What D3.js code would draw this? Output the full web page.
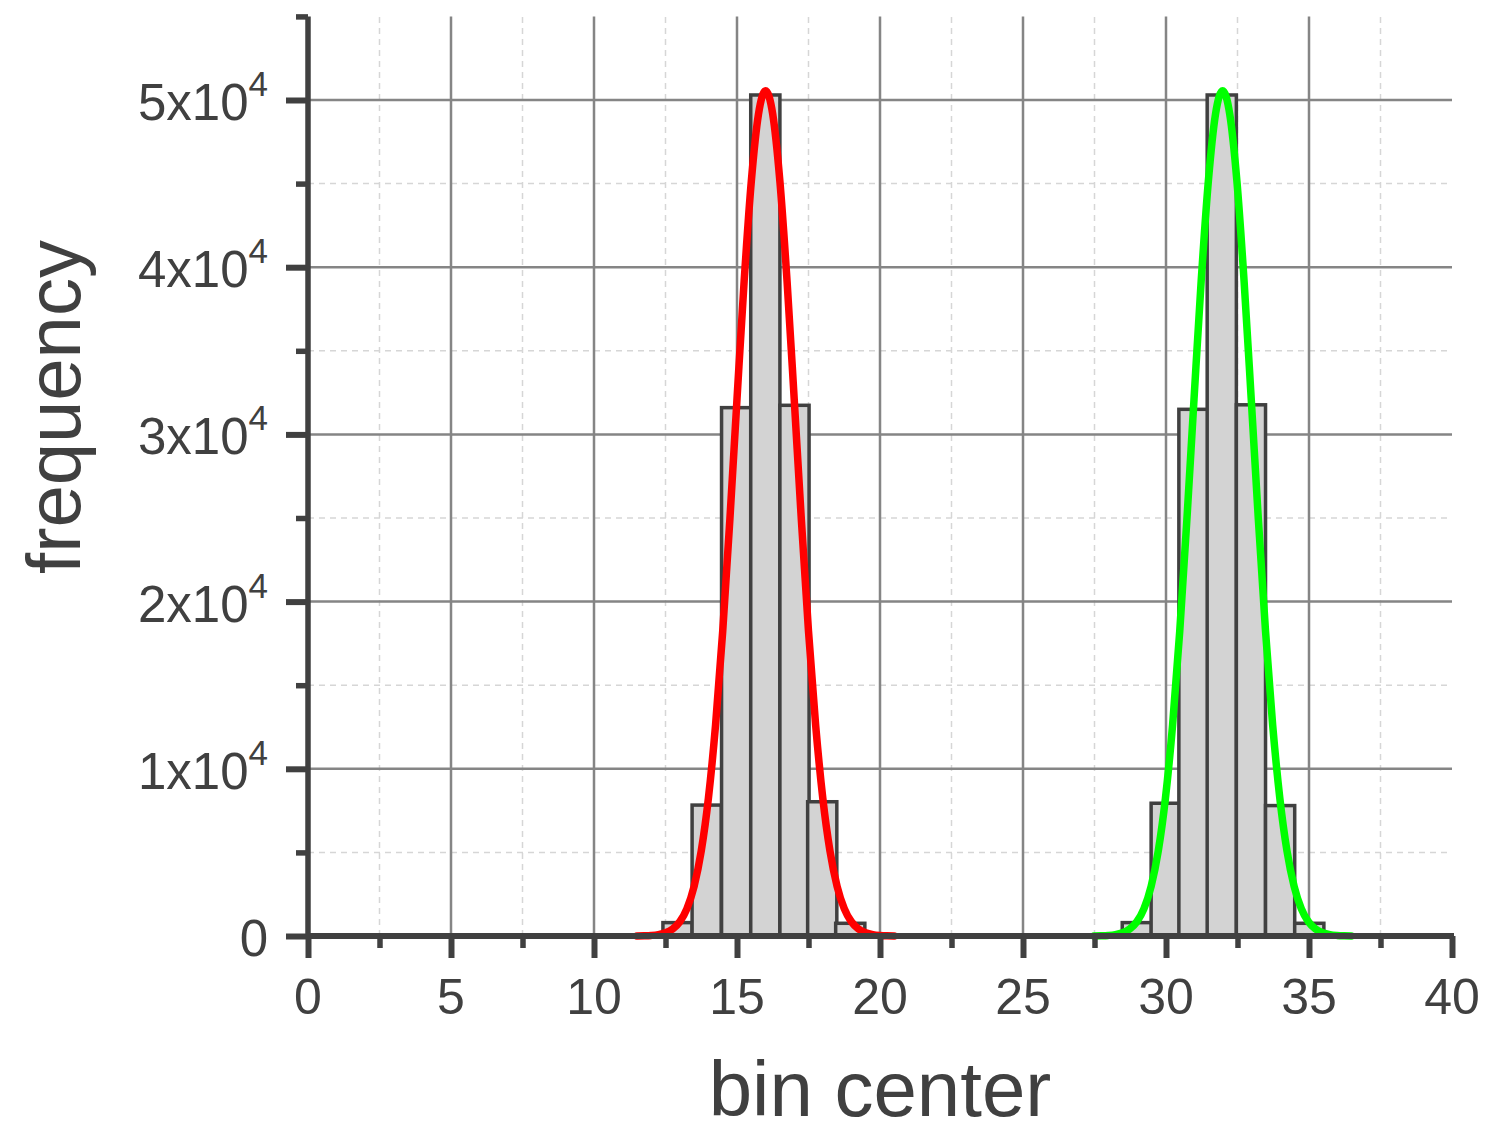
<!DOCTYPE html>
<html>
<head>
<meta charset="utf-8">
<script src="https://cdn.jsdelivr.net/npm/d3@7"></script>
<style>
  html, body { margin: 0; padding: 0; background: #ffffff; }
  svg { display: block; font-family: "Liberation Sans", Arial, sans-serif; }
</style>
</head>
<body>
<svg id="chart" width="1488" height="1136"></svg>
<script>
// Histogram bins: centers and counts for the two peaks
const binWidth = 1.02;
const peakABins = [12.92, 13.94, 14.97, 15.99, 17.01, 17.98, 18.96];
const peakACounts = [800, 7830, 31600, 50300, 31740, 8030, 760];
const peakBBins = [28.98, 29.99, 30.96, 31.95, 32.97, 33.99, 35.01];
const peakBCounts = [800, 7940, 31500, 50300, 31770, 7800, 760];

// Fitted curves, sampled points [bin center, frequency]
const fitA = [
  [11.5, 5], [11.75, 14], [12.0, 36], [12.25, 86], [12.5, 195], [12.75, 420],
  [13.0, 853], [13.25, 1640], [13.5, 2970], [13.75, 5090], [14.0, 8240],
  [14.25, 12610], [14.5, 18220], [14.75, 24890], [15.0, 32120], [15.25, 39170],
  [15.5, 45130], [15.75, 49140], [16.0, 50550], [16.25, 49140], [16.5, 45130],
  [16.75, 39170], [17.0, 32120], [17.25, 24890], [17.5, 18220], [17.75, 12610],
  [18.0, 8240], [18.25, 5090], [18.5, 2970], [18.75, 1640], [19.0, 853],
  [19.25, 420], [19.5, 195], [19.75, 86], [20.0, 36], [20.25, 14], [20.5, 5]
];
const fitB = [
  [27.48, 5], [27.73, 14], [27.98, 36], [28.23, 86], [28.48, 195], [28.73, 420],
  [28.98, 853], [29.23, 1640], [29.48, 2970], [29.73, 5090], [29.98, 8240],
  [30.23, 12610], [30.48, 18220], [30.73, 24890], [30.98, 32120], [31.23, 39170],
  [31.48, 45130], [31.73, 49140], [31.98, 50550], [32.23, 49140], [32.48, 45130],
  [32.73, 39170], [32.98, 32120], [33.23, 24890], [33.48, 18220], [33.73, 12610],
  [33.98, 8240], [34.23, 5090], [34.48, 2970], [34.73, 1640], [34.98, 853],
  [35.23, 420], [35.48, 195], [35.73, 86], [35.98, 36], [36.23, 14], [36.48, 5]
];

// Axis ticks
const xMajor = [0, 5, 10, 15, 20, 25, 30, 35, 40];
const xMinor = [2.5, 7.5, 12.5, 17.5, 22.5, 27.5, 32.5, 37.5];
const yMajor = [0, 10000, 20000, 30000, 40000, 50000];
const yMinor = [5000, 15000, 25000, 35000, 45000, 55000];
const yLabelMantissa = ["0", "1x10", "2x10", "3x10", "4x10", "5x10"];
const yLabelExponent = ["", "4", "4", "4", "4", "4"];

const ink = "#404040";
const svg = d3.select("#chart");

const x = d3.scaleLinear().domain([0, 40]).range([308, 1452]);
const y = d3.scaleLinear().domain([0, 55000]).range([936, 16.4]);

// Minor dashed grid
const grid = svg.append("g");
grid.selectAll("line.vminor").data(xMinor).join("line")
  .attr("x1", d => x(d)).attr("x2", d => x(d))
  .attr("y1", y(0)).attr("y2", y(55000))
  .attr("stroke", "#d6d6d6").attr("stroke-width", 1.5).attr("stroke-dasharray", "6,5");
grid.selectAll("line.hminor").data(yMinor.filter(v => v < 55000)).join("line")
  .attr("x1", x(0)).attr("x2", x(40))
  .attr("y1", d => y(d)).attr("y2", d => y(d))
  .attr("stroke", "#d6d6d6").attr("stroke-width", 1.5).attr("stroke-dasharray", "6,5");

// Major grid
grid.selectAll("line.vmajor").data(xMajor.filter(v => v > 0 && v < 40)).join("line")
  .attr("x1", d => x(d)).attr("x2", d => x(d))
  .attr("y1", y(0)).attr("y2", y(55000))
  .attr("stroke", "#858585").attr("stroke-width", 2.5);
grid.selectAll("line.hmajor").data(yMajor.filter(v => v > 0)).join("line")
  .attr("x1", x(0)).attr("x2", x(40))
  .attr("y1", d => y(d)).attr("y2", d => y(d))
  .attr("stroke", "#858585").attr("stroke-width", 2.5);

// Histogram bars
function drawBars(centers, counts) {
  svg.append("g").selectAll("rect").data(centers.map((c, i) => [c, counts[i]])).join("rect")
    .attr("x", d => x(d[0] - binWidth / 2))
    .attr("width", d => x(d[0] + binWidth / 2) - x(d[0] - binWidth / 2))
    .attr("y", d => y(d[1]))
    .attr("height", d => y(0) - y(d[1]))
    .attr("fill", "#d3d3d3")
    .attr("stroke", ink).attr("stroke-width", 3.5);
}
drawBars(peakABins, peakACounts);
drawBars(peakBBins, peakBCounts);

// Fitted curves
const line = d3.line().x(d => x(d[0])).y(d => y(d[1])).curve(d3.curveMonotoneX);
svg.append("path").datum(fitA).attr("d", line)
  .attr("fill", "none").attr("stroke", "#ff0000").attr("stroke-width", 7.5)
  .attr("stroke-linejoin", "round").attr("stroke-linecap", "round");
svg.append("path").datum(fitB).attr("d", line)
  .attr("fill", "none").attr("stroke", "#00ff00").attr("stroke-width", 7.5)
  .attr("stroke-linejoin", "round").attr("stroke-linecap", "round");

// X axis
const xAxisG = svg.append("g").attr("transform", `translate(0,${y(0)})`)
  .call(d3.axisBottom(x).tickValues(xMajor).tickSize(22).tickSizeOuter(0).tickFormat(""));
xAxisG.select(".domain").attr("stroke", ink).attr("stroke-width", 6)
  .attr("d", `M${x(0) - 2},0H${x(40) + 2}`);
xAxisG.selectAll(".tick line").attr("stroke", ink).attr("stroke-width", 6);
svg.append("g").attr("transform", `translate(0,${y(0)})`)
  .call(d3.axisBottom(x).tickValues(xMinor).tickSize(12).tickSizeOuter(0).tickFormat(""))
  .call(g => g.select(".domain").remove())
  .selectAll(".tick line").attr("stroke", ink).attr("stroke-width", 5.5);

// Y axis
const yAxisG = svg.append("g").attr("transform", `translate(${x(0)},0)`)
  .call(d3.axisLeft(y).tickValues(yMajor).tickSize(22).tickSizeOuter(0).tickFormat(""));
yAxisG.select(".domain").attr("stroke", ink).attr("stroke-width", 5.5)
  .attr("d", `M0,${y(0) + 3}V${y(55000)}`);
yAxisG.selectAll(".tick line").attr("stroke", ink).attr("stroke-width", 6);
svg.append("g").attr("transform", `translate(${x(0)},0)`)
  .call(d3.axisLeft(y).tickValues(yMinor).tickSize(12).tickSizeOuter(0).tickFormat(""))
  .call(g => g.select(".domain").remove())
  .selectAll(".tick line").attr("stroke", ink).attr("stroke-width", 5.5);

// X tick labels
svg.append("g").selectAll("text").data(xMajor).join("text")
  .attr("x", d => x(d)).attr("y", y(0) + 78)
  .attr("text-anchor", "middle")
  .attr("font-size", 50).attr("fill", ink)
  .text(d => d);

// Y tick labels with superscript exponent
const yLabels = svg.append("g").selectAll("text").data(yMajor).join("text")
  .attr("x", 268).attr("y", d => y(d) + 20)
  .attr("text-anchor", "end")
  .attr("font-size", 51).attr("fill", ink);
yLabels.append("tspan").text((d, i) => yLabelMantissa[i]);
yLabels.filter((d, i) => yLabelExponent[i] !== "")
  .append("tspan").attr("dy", -24).attr("font-size", 35)
  .text((d, i) => "4");

// Axis titles
svg.append("text")
  .attr("transform", "translate(80,407) rotate(-90)")
  .attr("text-anchor", "middle")
  .attr("font-size", 76).attr("fill", ink)
  .text("frequency");
svg.append("text")
  .attr("x", x(20)).attr("y", 1116)
  .attr("text-anchor", "middle")
  .attr("font-size", 78).attr("fill", ink)
  .text("bin center");
</script>
</body>
</html>
